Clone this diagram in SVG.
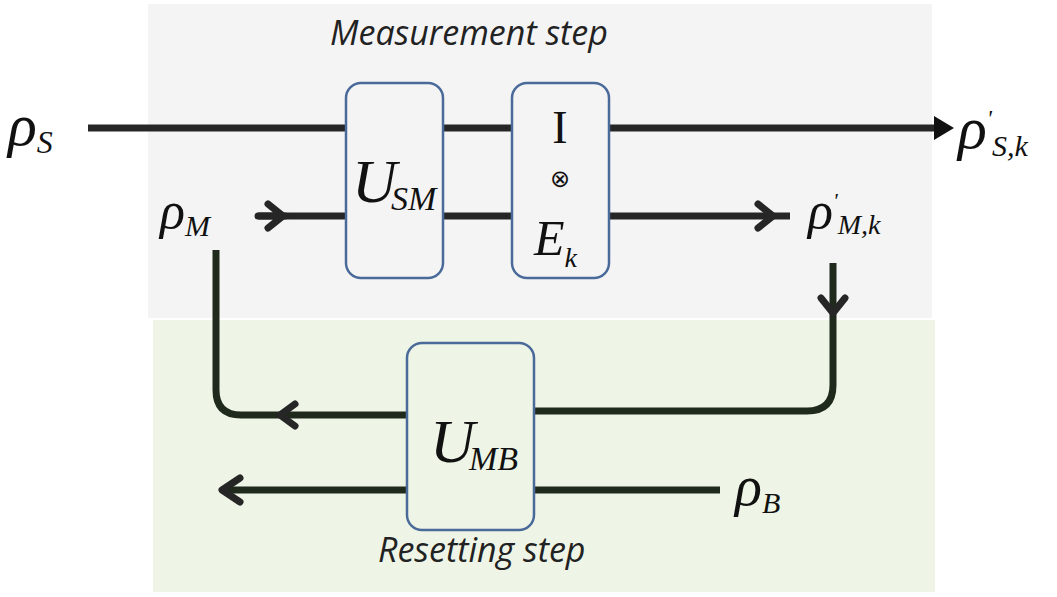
<svg xmlns="http://www.w3.org/2000/svg" width="1057" height="597" viewBox="0 0 1057 597">
<style>
.box{stroke:#4a6a9a;stroke-width:2.5}
.ln{fill:none;stroke:#262626;stroke-width:7}
.gl{fill:none;stroke:#1f2a1c;stroke-width:7}
.ch{fill:none;stroke:#262626;stroke-width:7;stroke-linecap:round;stroke-linejoin:round}
.sym{font-family:"Liberation Serif",serif;font-style:italic;fill:#111}
.lab{font-family:"Open Sans",sans-serif;font-style:italic;font-size:34px;fill:#222}
</style>
<rect x="148" y="4" width="784" height="314" fill="#f4f4f4"/>
<rect x="153" y="320" width="782" height="272" fill="#eef5e6"/>
<g id="connectors">
<path class="ln" d="M88 128 H938"/>
<polygon points="934,116 954,128 934,140" fill="#111"/>
<path class="ln" d="M258 216 H790"/>
<path class="ch" d="M258 216 H285 M268 204 L283 216 L268 228"/>
<path class="ch" d="M758 204 L773 216 L758 228"/>
<path class="gl" d="M833 263 V385 Q833 411 807 411 H535"/>
<path class="ch" d="M821 298 L833 313 L845 298"/>
<path class="gl" d="M216 250 V390 Q216 415 241 415 H407"/>
<path class="ch" d="M295 404 L280 415 L295 426"/>
<path class="gl" d="M720 490 H222"/>
<path class="ch" d="M240 478 L222 490 L240 502"/>
</g>
<g id="USM"><rect class="box" x="346" y="83" width="97" height="195" rx="15" fill="#f4f4f4"/>
<text class="sym" x="352" y="202" font-size="62">U</text>
<text class="sym" x="391" y="210" font-size="34">SM</text></g>
<g id="IE"><rect class="box" x="512" y="83" width="97" height="195" rx="15" fill="#f4f4f4"/>
<text x="560" y="143" font-family="Liberation Serif,serif" font-size="46" text-anchor="middle" fill="#111">I</text>
<text x="560" y="187" font-family="DejaVu Sans,sans-serif" font-size="24" text-anchor="middle" fill="#111">⊗</text>
<text class="sym" x="534" y="255" font-size="50">E<tspan font-size="28" dy="12">k</tspan></text></g>
<g id="UMB"><rect class="box" x="407" y="343" width="127" height="187" rx="15" fill="#eef5e6"/>
<text class="sym" x="430" y="462" font-size="62">U</text>
<text class="sym" x="469" y="470" font-size="34">MB</text></g>
<g id="labels">
<text class="lab" x="330" y="45">Measurement step</text>
<text class="lab" x="378" y="562">Resetting step</text>
<text class="sym" x="8" y="145" font-size="60">ρ<tspan font-size="32" dy="8">S</tspan></text>
<text class="sym" x="160" y="228" font-size="52">ρ<tspan font-size="30" dy="8">M</tspan></text>
<text class="sym" x="958" y="148" font-size="60">ρ<tspan font-size="24" dy="-22">'</tspan><tspan font-size="30" dy="30">S,k</tspan></text>
<text class="sym" x="808" y="228" font-size="52">ρ<tspan font-size="22" dy="-20">'</tspan><tspan font-size="28" dy="26">M,k</tspan></text>
<text class="sym" x="735" y="505" font-size="56">ρ<tspan font-size="30" dy="8">B</tspan></text>
</g>
</svg>
